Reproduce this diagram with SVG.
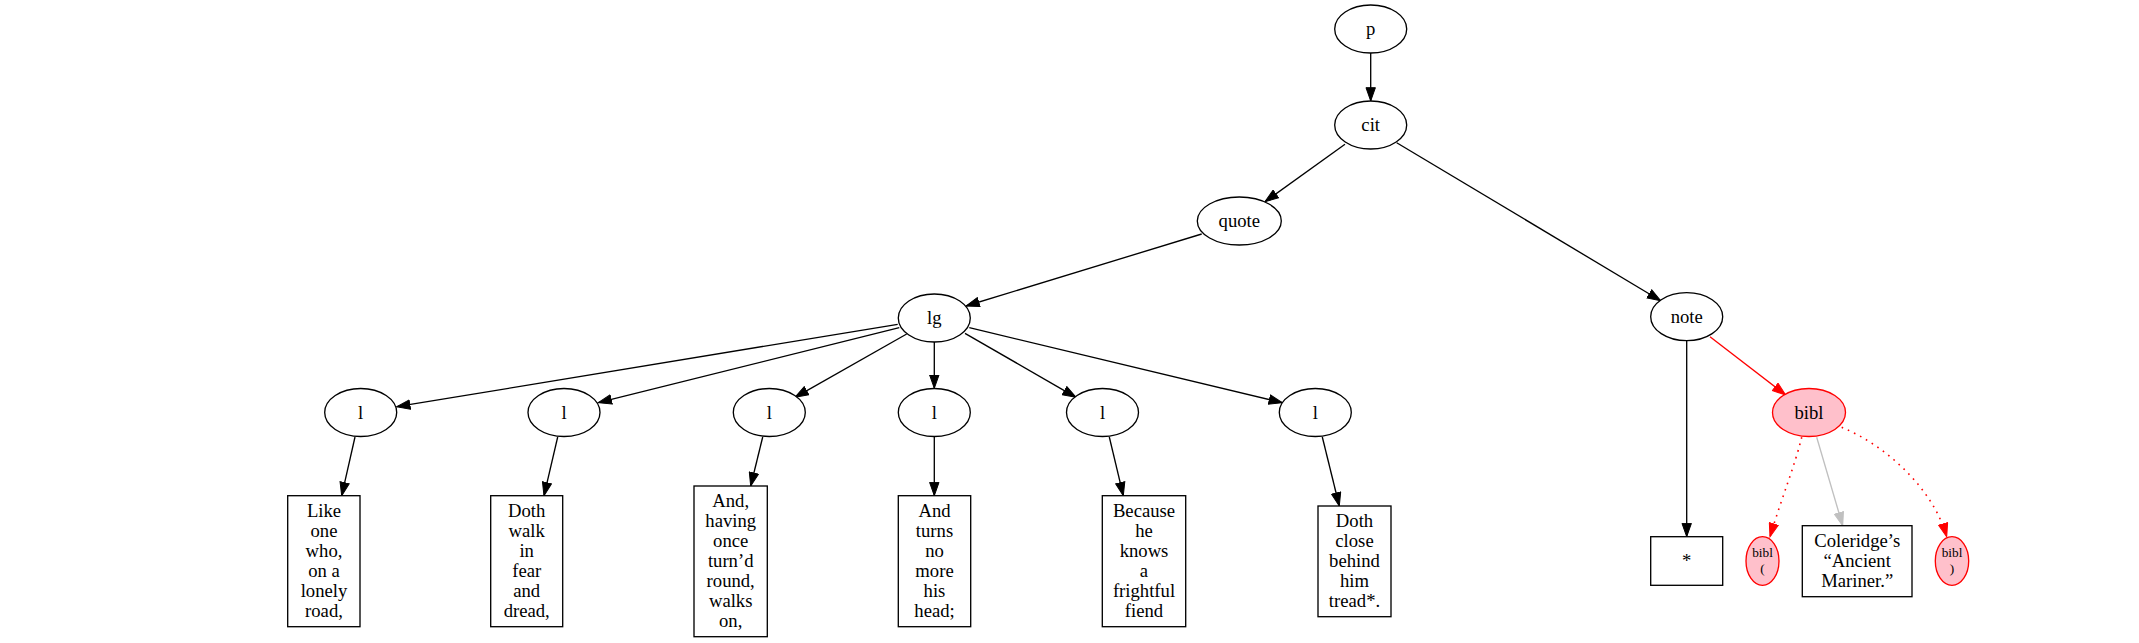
<svg xmlns="http://www.w3.org/2000/svg" width="2139" height="643" viewBox="0 0 2139 643">
<style>
.n{fill:#fff;stroke:#000;stroke-width:1.33}
.pk{fill:#ffc0cb;stroke:#ff0000;stroke-width:1.33}
text{font-family:"Liberation Serif","Times New Roman",serif;font-size:18.67px;text-anchor:middle;fill:#000}
.s{font-size:13.33px}
.e{fill:none;stroke:#000;stroke-width:1.33}
.r{fill:none;stroke:#ff0000;stroke-width:1.33}
.d{fill:none;stroke:#ff0000;stroke-width:1.6;stroke-dasharray:1.6,5.2}
.g{fill:none;stroke:#c0c0c0;stroke-width:1.33}
</style>
<defs>
<marker id="ab" markerUnits="userSpaceOnUse" markerWidth="15" markerHeight="11" viewBox="0 0 15 11" refX="13.8" refY="5.5" orient="auto"><path d="M0.5,0.8 L13.8,5.5 L0.5,10.2 Z" fill="#000" stroke="#000" stroke-width="1"/></marker>
<marker id="ar" markerUnits="userSpaceOnUse" markerWidth="15" markerHeight="11" viewBox="0 0 15 11" refX="13.8" refY="5.5" orient="auto"><path d="M0.5,0.8 L13.8,5.5 L0.5,10.2 Z" fill="#ff0000" stroke="#ff0000" stroke-width="1"/></marker>
<marker id="ag" markerUnits="userSpaceOnUse" markerWidth="15" markerHeight="11" viewBox="0 0 15 11" refX="13.8" refY="5.5" orient="auto"><path d="M0.5,0.8 L13.8,5.5 L0.5,10.2 Z" fill="#c0c0c0" stroke="#c0c0c0" stroke-width="1"/></marker>
</defs>
<rect width="2139" height="643" fill="#fff"/>
<g id="edges">
<path class="e" marker-end="url(#ab)" d="M1370.7,53 L1370.7,101"/>
<path class="e" marker-end="url(#ab)" d="M1345,144.3 L1265,201.7"/>
<path class="e" marker-end="url(#ab)" d="M1396.7,142.7 L1660.7,300.7"/>
<path class="e" marker-end="url(#ab)" d="M1201.7,234 L966,306"/>
<path class="e" marker-end="url(#ab)" d="M897.7,324.3 L396.7,406.7"/>
<path class="e" marker-end="url(#ab)" d="M899.3,327.7 L598.3,402.7"/>
<path class="e" marker-end="url(#ab)" d="M906.7,334 L795,397.3"/>
<path class="e" marker-end="url(#ab)" d="M934.3,342 L934.3,388.3"/>
<path class="e" marker-end="url(#ab)" d="M965,333.3 L1076,397.3"/>
<path class="e" marker-end="url(#ab)" d="M969.3,327.7 L1282.3,402.7"/>
<path class="e" marker-end="url(#ab)" d="M355,437 L341.7,495.7"/>
<path class="e" marker-end="url(#ab)" d="M557.7,437 L544,495.7"/>
<path class="e" marker-end="url(#ab)" d="M762.7,437 L750.7,486"/>
<path class="e" marker-end="url(#ab)" d="M934.3,436.5 L934.3,495.7"/>
<path class="e" marker-end="url(#ab)" d="M1109.3,437 L1123.3,495.7"/>
<path class="e" marker-end="url(#ab)" d="M1322.3,437 L1339.3,506"/>
<path class="e" marker-end="url(#ab)" d="M1686.7,341 L1686.7,536.7"/>
<path class="r" marker-end="url(#ar)" d="M1710,336.7 L1785.7,395"/>
<path class="d" marker-end="url(#ar)" d="M1801.7,437.3 C1795,465 1781,500 1770,536.7"/>
<path class="g" marker-end="url(#ag)" d="M1816.7,437.3 L1842.7,525.7"/>
<path class="d" marker-end="url(#ar)" d="M1841.7,427.3 C1885,445 1933,488 1946.7,536.7"/>
</g>
<g id="p"><ellipse class="n" cx="1370.7" cy="29" rx="36" ry="24"/><text x="1370.7" y="35">p</text></g>
<g id="cit"><ellipse class="n" cx="1370.7" cy="125" rx="36" ry="24"/><text x="1370.7" y="131">cit</text></g>
<g id="quote"><ellipse class="n" cx="1239.3" cy="221" rx="42" ry="24"/><text x="1239.3" y="227">quote</text></g>
<g id="lg"><ellipse class="n" cx="934.3" cy="318" rx="36" ry="24"/><text x="934.3" y="324">lg</text></g>
<g id="l1"><ellipse class="n" cx="360.7" cy="412.5" rx="36" ry="24"/><text x="360.7" y="418.5">l</text></g>
<g id="l2"><ellipse class="n" cx="564" cy="412.5" rx="36" ry="24"/><text x="564" y="418.5">l</text></g>
<g id="l3"><ellipse class="n" cx="769.3" cy="412.5" rx="36" ry="24"/><text x="769.3" y="418.5">l</text></g>
<g id="l4"><ellipse class="n" cx="934.3" cy="412.5" rx="36" ry="24"/><text x="934.3" y="418.5">l</text></g>
<g id="l5"><ellipse class="n" cx="1102.5" cy="412.5" rx="36" ry="24"/><text x="1102.5" y="418.5">l</text></g>
<g id="l6"><ellipse class="n" cx="1315.3" cy="412.5" rx="36" ry="24"/><text x="1315.3" y="418.5">l</text></g>
<g id="t1"><rect class="n" x="287.7" y="495.7" width="72.3" height="131"/>
<text x="324"><tspan x="324" y="516.7">Like</tspan><tspan x="324" y="536.7">one</tspan><tspan x="324" y="556.7">who,</tspan><tspan x="324" y="576.7">on a</tspan><tspan x="324" y="596.7">lonely</tspan><tspan x="324" y="616.7">road,</tspan></text></g>
<g id="t2"><rect class="n" x="490.7" y="495.7" width="72" height="131"/>
<text x="526.7"><tspan x="526.7" y="516.7">Doth</tspan><tspan x="526.7" y="536.7">walk</tspan><tspan x="526.7" y="556.7">in</tspan><tspan x="526.7" y="576.7">fear</tspan><tspan x="526.7" y="596.7">and</tspan><tspan x="526.7" y="616.7">dread,</tspan></text></g>
<g id="t3"><rect class="n" x="694" y="486" width="73.3" height="150.7"/>
<text x="730.7"><tspan x="730.7" y="506.8">And,</tspan><tspan x="730.7" y="526.8">having</tspan><tspan x="730.7" y="546.8">once</tspan><tspan x="730.7" y="566.8">turn’d</tspan><tspan x="730.7" y="586.8">round,</tspan><tspan x="730.7" y="606.8">walks</tspan><tspan x="730.7" y="626.8">on,</tspan></text></g>
<g id="t4"><rect class="n" x="898.3" y="495.7" width="72.4" height="131"/>
<text x="934.5"><tspan x="934.5" y="516.7">And</tspan><tspan x="934.5" y="536.7">turns</tspan><tspan x="934.5" y="556.7">no</tspan><tspan x="934.5" y="576.7">more</tspan><tspan x="934.5" y="596.7">his</tspan><tspan x="934.5" y="616.7">head;</tspan></text></g>
<g id="t5"><rect class="n" x="1102.3" y="495.7" width="83.4" height="131"/>
<text x="1144"><tspan x="1144" y="516.7">Because</tspan><tspan x="1144" y="536.7">he</tspan><tspan x="1144" y="556.7">knows</tspan><tspan x="1144" y="576.7">a</tspan><tspan x="1144" y="596.7">frightful</tspan><tspan x="1144" y="616.7">fiend</tspan></text></g>
<g id="t6"><rect class="n" x="1318" y="506" width="73" height="110.7"/>
<text x="1354.5"><tspan x="1354.5" y="526.7">Doth</tspan><tspan x="1354.5" y="546.7">close</tspan><tspan x="1354.5" y="566.7">behind</tspan><tspan x="1354.5" y="586.7">him</tspan><tspan x="1354.5" y="606.7">tread*.</tspan></text></g>
<g id="note"><ellipse class="n" cx="1686.7" cy="316.7" rx="36" ry="24"/><text x="1686.7" y="322.7">note</text></g>
<g id="bibl"><ellipse class="pk" cx="1809" cy="412.5" rx="36.5" ry="24"/><text x="1809" y="418.5">bibl</text></g>
<g id="star"><rect class="n" x="1650.7" y="536.7" width="72" height="48.6"/><text x="1686.7" y="567">*</text></g>
<g id="biblopen"><ellipse class="pk" cx="1762.5" cy="561" rx="16.5" ry="24.3"/>
<text class="s" x="1762.5"><tspan x="1762.5" y="557">bibl</tspan><tspan x="1762.5" y="573">(</tspan></text></g>
<g id="coleridge"><rect class="n" x="1802.3" y="525.7" width="109.7" height="71"/>
<text x="1857.2"><tspan x="1857.2" y="546.7">Coleridge’s</tspan><tspan x="1857.2" y="566.7">“Ancient</tspan><tspan x="1857.2" y="586.7">Mariner.”</tspan></text></g>
<g id="biblclose"><ellipse class="pk" cx="1952" cy="561" rx="16.7" ry="24.3"/>
<text class="s" x="1952"><tspan x="1952" y="557">bibl</tspan><tspan x="1952" y="573">)</tspan></text></g>
</svg>
